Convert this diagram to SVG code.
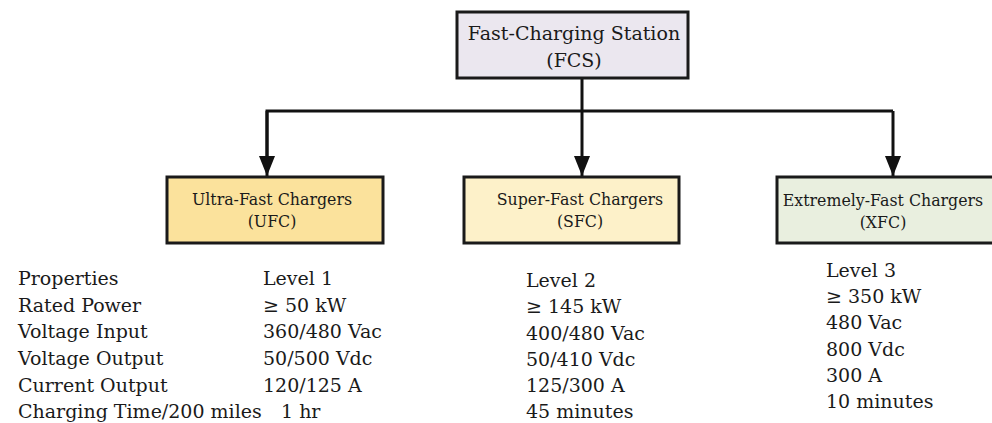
<svg xmlns="http://www.w3.org/2000/svg" width="992" height="423" viewBox="0 0 992 423">
<defs>
<style>
.box{stroke:#1a1a1a;stroke-width:3}
.t{font-family:"DejaVu Serif","Liberation Serif",serif;fill:#1a1a1a}
.bt{font-size:15.8px}
.ft{font-size:19px}
.tab{font-size:19px}
.conn{stroke:#111;stroke-width:3;fill:none}
</style>
<marker id="arr" viewBox="0 0 20 16" refX="20" refY="8" markerWidth="20" markerHeight="16" markerUnits="userSpaceOnUse" orient="auto">
<path d="M0,0 L20,8 L0,16 Z" fill="#111"/>
</marker>
</defs>
<rect width="992" height="423" fill="#fff"/>
<g id="connectors">
<path class="conn" d="M582,78 V176" marker-end="url(#arr)"/>
<path class="conn" d="M893,111 H267 V160"/>
<path class="conn" d="M267,111 V176" marker-end="url(#arr)"/>
<path class="conn" d="M893,111 V176" marker-end="url(#arr)"/>
</g>
<g id="fcs">
<rect class="box" x="457" y="12" width="231" height="66" fill="#ebe7ef"/>
<text class="t ft" x="574" y="40" text-anchor="middle">Fast-Charging Station</text>
<text class="t ft" x="574" y="67" text-anchor="middle">(FCS)</text>
</g>
<g id="ufc">
<rect class="box" x="167" y="177" width="216" height="66" fill="#fbe29c"/>
<text class="t bt" x="272" y="205" text-anchor="middle">Ultra-Fast Chargers</text>
<text class="t bt" x="272" y="227" text-anchor="middle">(UFC)</text>
</g>
<g id="sfc">
<rect class="box" x="464" y="177" width="215" height="66" fill="#fdf1c9"/>
<text class="t bt" x="580" y="205" text-anchor="middle">Super-Fast Chargers</text>
<text class="t bt" x="580" y="227" text-anchor="middle">(SFC)</text>
</g>
<g id="xfc">
<rect class="box" x="777" y="177" width="230" height="66" fill="#e9efdf"/>
<text class="t bt" x="883" y="206" text-anchor="middle">Extremely-Fast Chargers</text>
<text class="t bt" x="883" y="228" text-anchor="middle">(XFC)</text>
</g>
<g id="table-ufc" class="t tab">
<text x="18" y="285">Properties</text>
<text x="18" y="312">Rated Power</text>
<text x="18" y="338">Voltage Input</text>
<text x="18" y="365">Voltage Output</text>
<text x="18" y="392">Current Output</text>
<text x="18" y="418">Charging Time/200 miles</text>
<text x="263" y="285">Level 1</text>
<text x="263" y="312">≥ 50 kW</text>
<text x="263" y="338">360/480 Vac</text>
<text x="263" y="365">50/500 Vdc</text>
<text x="263" y="392">120/125 A</text>
<text x="281" y="418">1 hr</text>
</g>
<g id="table-sfc" class="t tab">
<text x="526" y="287">Level 2</text>
<text x="526" y="313">≥ 145 kW</text>
<text x="526" y="340">400/480 Vac</text>
<text x="526" y="366">50/410 Vdc</text>
<text x="526" y="392">125/300 A</text>
<text x="526" y="418">45 minutes</text>
</g>
<g id="table-xfc" class="t tab">
<text x="826" y="277">Level 3</text>
<text x="826" y="303">≥ 350 kW</text>
<text x="826" y="329">480 Vac</text>
<text x="826" y="356">800 Vdc</text>
<text x="826" y="382">300 A</text>
<text x="826" y="408">10 minutes</text>
</g>
</svg>
